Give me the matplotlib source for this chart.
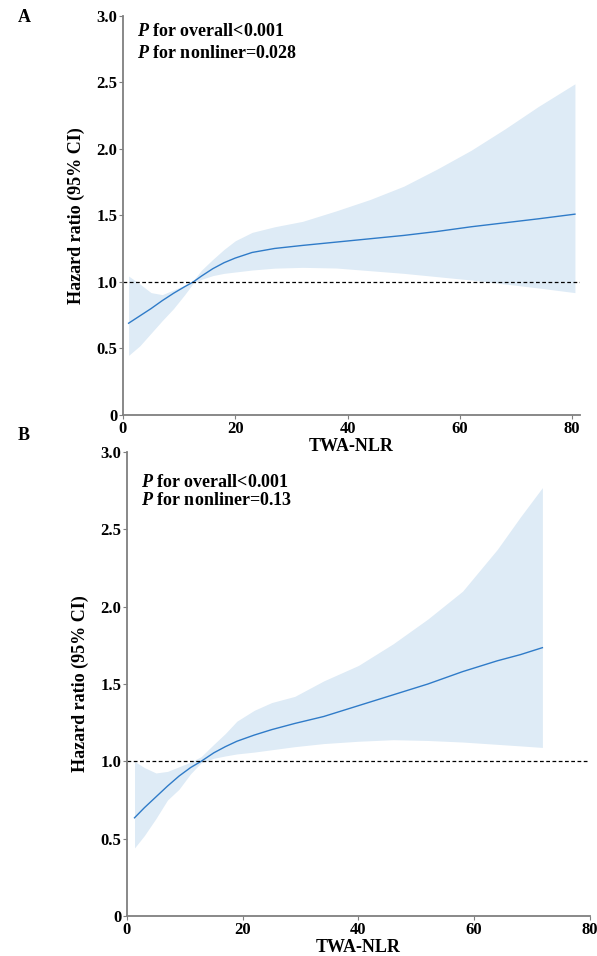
import matplotlib
matplotlib.use("Agg")
import matplotlib.pyplot as plt

# values
# panel A
a_x = [1, 3, 5, 7, 9, 11, 12.5, 14, 16, 18, 20, 23, 27, 32, 38, 44, 50, 56, 62, 68, 74, 80.5]
a_hr = [0.69, 0.745, 0.80, 0.86, 0.915, 0.965, 1.0, 1.045, 1.10, 1.145, 1.18, 1.222,
        1.252, 1.275, 1.30, 1.325, 1.35, 1.38, 1.415, 1.445, 1.475, 1.51]
a_upper = [1.045, 0.985, 0.92, 0.905, 0.94, 0.975, 1.01, 1.09, 1.17, 1.245, 1.31, 1.373,
           1.415, 1.456, 1.535, 1.62, 1.72, 1.85, 1.99, 2.15, 2.32, 2.49]
a_lower = [0.448, 0.52, 0.615, 0.71, 0.80, 0.905, 0.99, 1.02, 1.048, 1.065, 1.075, 1.09,
           1.104, 1.11, 1.105, 1.085, 1.065, 1.04, 1.015, 0.985, 0.955, 0.92]

# panel B
b_x = [1.3, 3, 5, 7, 9, 11, 12.8, 15, 17, 19, 22, 25, 29, 34, 40, 46, 52, 58, 64, 68, 71.8]
b_hr = [0.635, 0.70, 0.77, 0.84, 0.905, 0.96, 1.0, 1.055, 1.095, 1.13, 1.17, 1.205,
        1.245, 1.29, 1.36, 1.43, 1.50, 1.58, 1.65, 1.69, 1.735]
b_upper = [1.0, 0.96, 0.925, 0.935, 0.965, 0.995, 1.03, 1.11, 1.18, 1.26, 1.33, 1.38,
           1.42, 1.52, 1.62, 1.76, 1.92, 2.10, 2.37, 2.58, 2.77]
b_lower = [0.44, 0.52, 0.63, 0.75, 0.82, 0.92, 0.99, 1.02, 1.035, 1.048, 1.06, 1.075,
           1.095, 1.115, 1.13, 1.14, 1.135, 1.125, 1.11, 1.10, 1.09]

y_ticks = [0, 0.5, 1.0, 1.5, 2.0, 2.5, 3.0]
y_labels = ["0", "0.5", "1.0", "1.5", "2.0", "2.5", "3.0"]
x_ticks = [0, 20, 40, 60, 80]
a_ptext = ["for overall<0.001", "for nonliner=0.028"]
b_ptext = ["for overall<0.001", "for nonliner=0.13"]

plt.rcParams["font.family"] = ["Liberation Serif", "DejaVu Serif"]
plt.rcParams["font.weight"] = "bold"

BAND = "#deebf6"
LINE = "#2f7bc8"
SPINE = "#7f7f7f"

fig = plt.figure(figsize=(5.97, 9.56), dpi=100)
ax_a = fig.add_axes([0.206, 0.5659, 0.7655, 0.4174])
ax_b = fig.add_axes([0.2127, 0.0418, 0.7753, 0.4854])


def draw_panel(ax, x, hr, upper, lower, xmax, ptext, text_y, line_gap):
	ax.fill_between(x, lower, upper, color=BAND, linewidth=0)
	ax.plot(x, hr, color=LINE, linewidth=1.0)
	ax.axhline(1.0, color="black", linewidth=0.9, linestyle=(0, (3, 2)))
	ax.set_xlim(0, xmax)
	ax.set_ylim(0, 3.0)
	ax.set_yticks(y_ticks)
	ax.set_yticklabels(y_labels)
	ax.set_xticks(x_ticks)
	for side in ["top", "right"]:
		ax.spines[side].set_visible(False)
	for side in ["left", "bottom"]:
		ax.spines[side].set_color(SPINE)
		ax.spines[side].set_linewidth(1.3)
	ax.tick_params(direction="out", length=3, width=0.8, color=SPINE,
	               labelsize=12, pad=1)
	for lab in ax.get_xticklabels() + ax.get_yticklabels():
		lab.set_fontweight("bold")
	ax.set_xlabel("TWA-NLR", fontsize=13, fontweight="bold", labelpad=1)
	ax.set_ylabel("Hazard ratio (95% CI)", fontsize=13, fontweight="bold", labelpad=8)
	for i, t in enumerate(ptext):
		ax.text(0.03, text_y - i * line_gap, r"$\mathbfit{P}$ " + t,
		        transform=ax.transAxes, fontsize=13, fontweight="bold",
		        va="center", ha="left")


plt.rcParams["mathtext.fontset"] = "custom"
plt.rcParams["mathtext.bfit"] = "Liberation Serif:bold:italic"

draw_panel(ax_a, a_x, a_hr, a_upper, a_lower, 81.4, a_ptext, 0.96, 0.053)
draw_panel(ax_b, b_x, b_hr, b_upper, b_lower, 80, b_ptext, 0.935, 0.04)

fig.text(18 / 597, 1 - 18 / 956, "A", fontsize=13, fontweight="bold", ha="left", va="center")
fig.text(18 / 597, 1 - 436 / 956, "B", fontsize=13, fontweight="bold", ha="left", va="center")

fig.savefig("out.png", dpi=100)
